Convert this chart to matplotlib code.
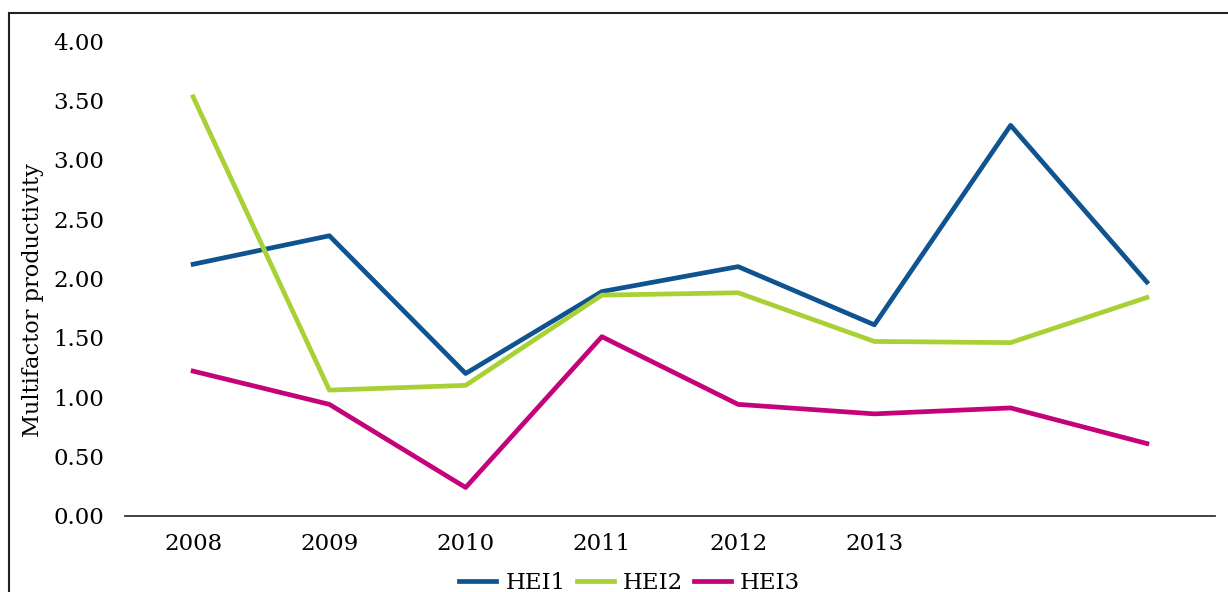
import matplotlib
matplotlib.use("Agg")
import matplotlib.pyplot as plt
from matplotlib.lines import Line2D
import numpy as np

# values, 8 periods (only first six labelled)
tick_labels = ["2008", "2009", "2010", "2011", "2012", "2013"]
hei1 = [2.12, 2.36, 1.20, 1.89, 2.10, 1.61, 3.29, 1.97]
hei2 = [3.53, 1.06, 1.10, 1.86, 1.88, 1.47, 1.46, 1.84]
hei3 = [1.22, 0.94, 0.24, 1.51, 0.94, 0.86, 0.91, 0.61]

plt.rcParams['font.family'] = ['DejaVu Serif']

fig = plt.figure(figsize=(12.28, 5.92), dpi=100)
ax = fig.add_axes([0.1018, 0.1284, 0.8876, 0.8023])

x = np.arange(len(hei1))
ax.plot(x, hei1, color='#0F5490', lw=3.4, label='HEI1')
ax.plot(x, hei2, color='#A8D136', lw=3.4, label='HEI2')
ax.plot(x, hei3, color='#C4037A', lw=3.4, label='HEI3')

ax.set_xlim(-0.5, 7.5)
ax.set_ylim(0, 4)
ax.set_yticks(np.arange(0, 4.01, 0.5))
ax.set_yticklabels(["%.2f" % v for v in np.arange(0, 4.01, 0.5)])
ax.set_xticks(range(len(tick_labels)))
ax.set_xticklabels(tick_labels)
ax.tick_params(axis='both', length=0, labelsize=16.5, colors='black')
ax.tick_params(axis='y', pad=15)
ax.tick_params(axis='x', pad=12)

for s in ['top', 'right', 'left']:
    ax.spines[s].set_visible(False)
ax.spines['bottom'].set_color('#333333')
ax.spines['bottom'].set_linewidth(1.3)

ax.set_ylabel('Multifactor productivity', fontsize=16.2)
ax.yaxis.set_label_coords(-0.074, 0.455)

fig.legend(loc='center', bbox_to_anchor=(0.513, 0.015), ncol=3, frameon=False,
           fontsize=16.5, handlelength=1.6, columnspacing=0.5, handletextpad=0.4)

# outer frame (top and left edges visible)
fig.add_artist(Line2D([0.0073, 1.0], [0.978, 0.978], color='#222222', lw=1.5, transform=fig.transFigure))
fig.add_artist(Line2D([0.0073, 0.0073], [0.0, 0.978], color='#222222', lw=1.5, transform=fig.transFigure))

fig.savefig('out.png', dpi=100)
